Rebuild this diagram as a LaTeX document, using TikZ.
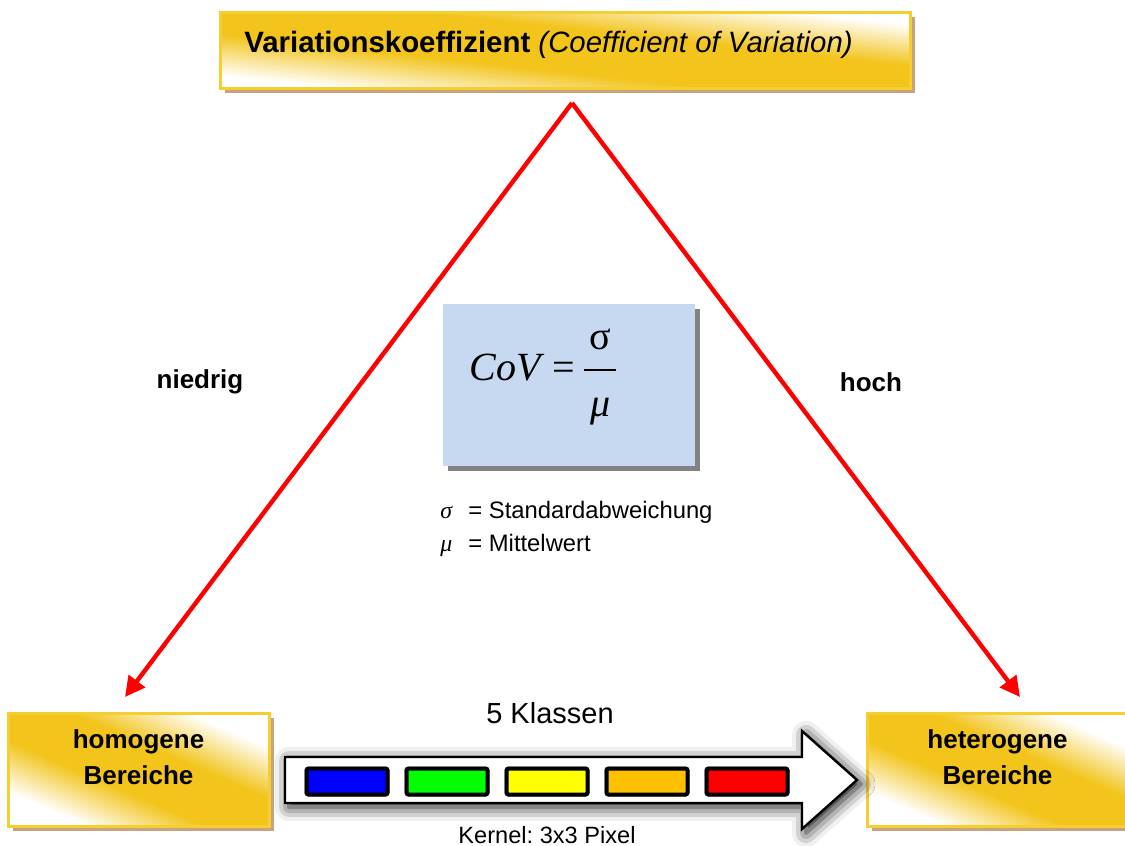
\documentclass[tikz,border=0pt]{standalone}
\usepackage{fontspec}
\setmainfont{Liberation Sans}
\newfontfamily\formfont{Liberation Serif}
\usepackage{tikz}
\usetikzlibrary{arrows.meta,shadows,shadows.blur}
\definecolor{boxgold}{HTML}{F2C41C}
\definecolor{goldedge}{HTML}{F5CE30}
\definecolor{goldshade}{HTML}{C9A27E}
\definecolor{formblue}{HTML}{C6D9F1}
\definecolor{formshade}{HTML}{828282}
\definecolor{kblue}{HTML}{0000FF}
\definecolor{kgreen}{HTML}{00FF00}
\definecolor{kyellow}{HTML}{FFFF00}
\definecolor{korange}{HTML}{FFC000}
\definecolor{kred}{HTML}{FF0000}
\pgfdeclareverticalshading{goldsheen}{100bp}{color(0bp)=(white); color(27bp)=(white); color(42bp)=(boxgold); color(58bp)=(boxgold); color(73bp)=(white); color(100bp)=(white)}
\frenchspacing

\begin{document}
\begin{tikzpicture}[x=0.5pt, y=-0.5pt,
  goldbox/.style={draw=goldedge, line width=1.5pt, shade, shading=goldsheen, shading angle=-23.4,
    drop shadow={fill=goldshade, opacity=1, shadow xshift=2.5pt, shadow yshift=-2.5pt},
    inner sep=0pt},
  boxlabel/.style={font=\bfseries\fontsize{13}{18}\selectfont, align=center},
  sidelabel/.style={font=\bfseries\fontsize{13}{15}\selectfont},
  redarrow/.style={draw=kred, line width=2.2pt, -{Triangle[length=10pt,width=10pt]}},
  classbox/.style={draw=black, line width=2pt, rounded corners=1pt, minimum width=40.5pt, minimum height=13pt, inner sep=0pt,
    blur shadow={shadow xshift=0pt, shadow yshift=0pt, shadow blur radius=1pt, shadow opacity=60}},
  legendrow/.style={font=\fontsize{11.9}{14}\selectfont, anchor=base west, inner sep=0pt},
]
\useasboundingbox (0,0) rectangle (1125,846);
% title box at the top
\node[goldbox, shading angle=-6.3, minimum width=345pt, minimum height=38pt] (title) at (565,50) {};
\node[anchor=base west, inner sep=0pt, font=\fontsize{14.7}{17}\selectfont] (titletext) at (244,52)
  {\textbf{Variationskoeffizient} \textit{(Coefficient of Variation)}};

% the two end boxes
\node[goldbox, minimum width=130.5pt, minimum height=56.5pt] (homog) at (138.5,769.5) {};
\node[boxlabel] (homogtext) at ([yshift=6pt]homog.center) {homogene\\Bereiche};
\node[goldbox, minimum width=130.5pt, minimum height=56.5pt] (hetero) at (997.5,769.5) {};
\node[boxlabel] (heterotext) at ([yshift=6pt]hetero.center) {heterogene\\Bereiche};

% red triangle
\coordinate (apex) at (572,103);
\coordinate (lowleft) at (125,697);
\coordinate (lowright) at (1020,697);
\draw[redarrow] (apex) -- (lowleft);
\draw[redarrow] (apex) -- (lowright);
\node[sidelabel] (low) at (200,382) {niedrig};
\node[sidelabel] (high) at (871,382) {hoch};

% formula box
\node[fill=formblue, drop shadow={fill=formshade, opacity=1, shadow xshift=2.5pt, shadow yshift=-2.5pt},
  minimum width=126pt, minimum height=81pt, inner sep=0pt] (formbox) at (569,385) {};
\node[font=\formfont\fontsize{20}{24}\selectfont, inner sep=0pt, anchor=base west] (formula) at (469,380)
  {\textit{CoV}\kern4pt=\kern3.5pt$\displaystyle{\hbox{\kern2.5pt\raisebox{1pt}{σ}\kern2.5pt}\above0.9pt\hbox{\raisebox{-4pt}{\itshape μ}}}$};
\node[legendrow] (sigrow) at (440,518) {\makebox[14pt][l]{\formfont\itshape σ}= Standardabweichung};
\node[legendrow] (murow) at (440,551) {\makebox[14pt][l]{\formfont\itshape μ}= Mittelwert};

% class arrow with the five colours
\draw[draw=black, line width=1.2pt, fill=white,
  blur shadow={shadow xshift=2pt, shadow yshift=-2pt, shadow blur radius=7pt, shadow opacity=95}]
  (285,757) -- (802,757) -- (802,731) -- (857,780) -- (802,829) -- (802,803) -- (285,803) -- cycle;
\foreach \c [count=\i from 0] in {kblue,kgreen,kyellow,korange,kred} {
  \node[classbox, fill=\c] (class\i) at ({347+100*\i},781.5) {};
}
\node[font=\fontsize{14.5}{17}\selectfont, anchor=base] (classes) at (550,723) {5 Klassen};
\node[font=\fontsize{11.8}{14}\selectfont, anchor=base] (kernel) at (547,843) {Kernel: 3x3 Pixel};
\end{tikzpicture}
\end{document}
